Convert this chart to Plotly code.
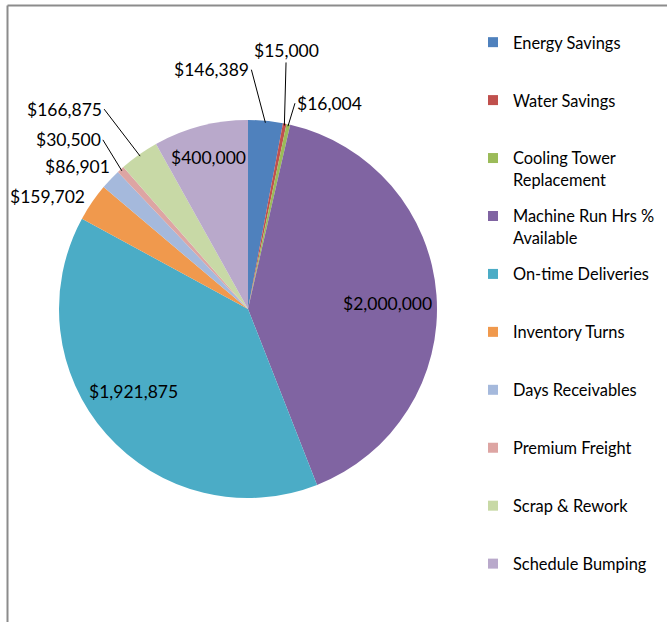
import math
import plotly.graph_objects as go

# ---------------- data ----------------
categories = ["Energy Savings", "Water Savings", "Cooling Tower Replacement",
              "Machine Run Hrs % Available", "On-time Deliveries", "Inventory Turns",
              "Days Receivables", "Premium Freight", "Scrap & Rework", "Schedule Bumping"]
legend_labels = ["Energy Savings", "Water Savings", "Cooling Tower<br>Replacement",
                 "Machine Run Hrs %<br>Available", "On-time Deliveries", "Inventory Turns",
                 "Days Receivables", "Premium Freight", "Scrap & Rework", "Schedule Bumping"]
values = [146389, 15000, 16004, 2000000, 1921875, 159702, 86901, 30500, 166875, 400000]
value_labels = ["$146,389", "$15,000", "$16,004", "$2,000,000", "$1,921,875", "$159,702",
                "$86,901", "$30,500", "$166,875", "$400,000"]
colors = ["#4F81BD", "#C0504D", "#9BBB59", "#8064A2", "#4BACC6", "#F0994D",
          "#A5B9DC", "#DDA5A3", "#C8D9A6", "#B9A9CB"]

# ---------------- layout geometry ----------------
W, H = 667, 622
CX, CY, R = 248, 309, 189   # pie centre / radius in pixels
FONT = "Lato, 'Open Sans', sans-serif"

fig = go.Figure()
fig.add_trace(go.Pie(
    labels=categories, values=values, sort=False, direction="clockwise", rotation=0,
    marker=dict(colors=colors, line=dict(color="white", width=0)),
    textinfo="none", showlegend=False, hoverinfo="label+value",
    domain=dict(x=[(CX - R) / W, (CX + R) / W], y=[1 - (CY + R) / H, 1 - (CY - R) / H]),
))

# legend via one legend-entry per category (keeps equal spacing like the original)
for i, (lab, col) in enumerate(zip(legend_labels, colors)):
    name = lab if "<br>" in lab else lab + "<br> "
    fig.add_trace(go.Scatter(
        x=[None], y=[None], mode="markers", name=name, legendgroup=str(i),
        marker=dict(symbol="square", size=10, color=col), hoverinfo="skip"))

# ---------------- value labels ----------------
total = sum(values)
cum = 0
mids = []
for v in values:
    mids.append((cum + v / 2) / total * 360.0)
    cum += v


def pt(angle, rf):
    a = math.radians(angle)
    px = CX + rf * R * math.sin(a)
    py = CY - rf * R * math.cos(a)
    return px / W, 1 - py / H

# (radius factor, arrow?, dx, dy, xanchor) per label – placement relative to slice
placement = {
    0: (0.99, True, -14, -53, "right"),
    1: (0.99, True, 2, -75, "center"),
    2: (0.99, True, 7, -23, "left"),
    3: (0.72, False, 4, -5, "center"),
    4: (0.75, False, -8, 11, "center"),
    5: (1.0, False, -44, 6, "center"),
    6: (1.0, False, -33, 13, "center"),
    7: (0.99, True, -19, -31, "right"),
    8: (0.99, True, -36, -47, "right"),
    9: (0.83, False, 0, 0, "center"),
}
lab_font = dict(size=17.5, color="black", family=FONT)
for i, (rf, arrow, dx, dy, xa) in placement.items():
    x, y = pt(mids[i], rf)
    if arrow:
        fig.add_annotation(x=x, y=y, xref="paper", yref="paper", text=value_labels[i],
                           showarrow=True, arrowhead=0, arrowwidth=1, arrowcolor="black",
                           ax=dx, ay=dy, xanchor=xa, yanchor="middle", font=lab_font)
    else:
        fig.add_annotation(x=x, y=y, xref="paper", yref="paper", text=value_labels[i],
                           showarrow=False, xshift=dx, yshift=dy,
                           xanchor=xa, yanchor="middle", font=lab_font)

# chart frame (partly outside the visible area, as in the original)
fig.add_shape(type="line", xref="paper", yref="paper",
              x0=7.5 / W, x1=1.02, y0=1 - 5.5 / H, y1=1 - 5.5 / H,
              line=dict(color="#8C8C8C", width=2))
fig.add_shape(type="line", xref="paper", yref="paper",
              x0=7.5 / W, x1=7.5 / W, y0=-0.02, y1=1 - 5.5 / H,
              line=dict(color="#8C8C8C", width=2))

fig.update_layout(
    width=W, height=H, margin=dict(l=0, r=0, t=0, b=0),
    paper_bgcolor="white", plot_bgcolor="white",
    xaxis=dict(visible=False), yaxis=dict(visible=False),
    legend=dict(x=473 / W, y=1 - 25 / H, xanchor="left", yanchor="top",
                font=dict(size=16.4, color="#000000", family=FONT),
                valign="top", tracegroupgap=12.3, itemwidth=30,
                bgcolor="rgba(0,0,0,0)"),
    font=dict(family=FONT),
)

fig.write_html("out.html", config={"displayModeBar": False},
               post_script="document.body.style.margin='0';")
